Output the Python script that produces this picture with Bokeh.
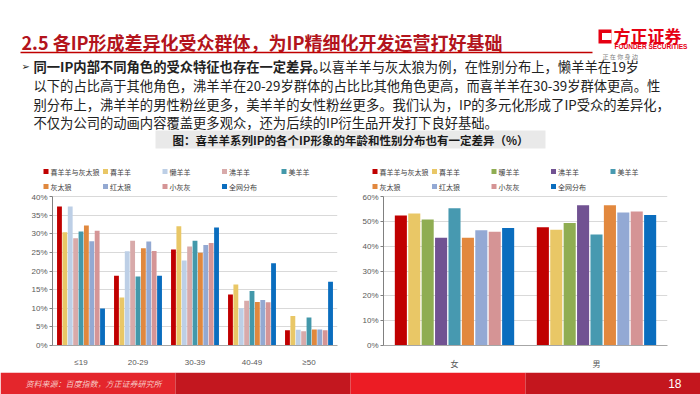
from bokeh.plotting import figure
from bokeh.layouts import column, row
from bokeh.models import (ColumnDataSource, FactorRange, Range1d, FixedTicker,
                          PrintfTickFormatter)
from bokeh.transform import dodge
from bokeh.core.properties import value
from bokeh.embed import file_html
from bokeh.resources import INLINE

# ---------------- data ----------------
age_groups = ["≤19", "20-29", "30-39", "40-49", "≥50"]
age_series = ["喜羊羊与灰太狼", "喜羊羊", "懒羊羊", "沸羊羊", "美羊羊",
              "灰太狼", "红太狼", "小灰灰", "全网分布"]
age_xyy_htl = [37.3, 18.7, 25.8, 13.7, 4.1]
age_xyy = [30.4, 12.9, 32.0, 16.4, 7.9]
age_lyy = [37.3, 25.3, 22.8, 10.0, 4.2]
age_fyy = [28.8, 28.1, 26.6, 12.0, 3.8]
age_myy = [30.6, 18.5, 28.1, 14.6, 7.5]
age_htl = [32.2, 26.1, 24.9, 11.7, 4.3]
age_hongtl = [28.0, 27.9, 27.0, 12.2, 4.3]
age_xhh = [30.8, 25.4, 27.5, 11.6, 4.1]
age_all = [9.9, 18.7, 31.7, 22.1, 17.1]
age_ticks = [0, 5, 10, 15, 20, 25, 30, 35, 40]

gender_groups = ["女", "男"]
gender_series = ["喜羊羊与灰太狼", "喜羊羊", "暖羊羊", "沸羊羊", "美羊羊",
                 "灰太狼", "红太狼", "小灰灰", "全网分布"]
gen_xyy_htl = [52.3, 47.6]
gen_xyy = [53.2, 46.6]
gen_nyy = [50.7, 49.3]
gen_fyy = [43.4, 56.5]
gen_myy = [55.3, 44.7]
gen_htl = [43.4, 56.5]
gen_hongtl = [46.4, 53.6]
gen_xhh = [45.8, 54.0]
gen_all = [47.3, 52.6]
gender_ticks = [0, 10, 20, 30, 40, 50, 60]

age_values = [age_xyy_htl, age_xyy, age_lyy, age_fyy, age_myy,
              age_htl, age_hongtl, age_xhh, age_all]
gender_values = [gen_xyy_htl, gen_xyy, gen_nyy, gen_fyy, gen_myy,
                 gen_htl, gen_hongtl, gen_xhh, gen_all]

age_colors = ["#C00000", "#E9C766", "#BDCFE6", "#D8AAAA", "#4398AA",
              "#E0883E", "#93A9D2", "#D59596", "#0A6DBE"]
gender_colors = ["#C00000", "#E9C766", "#8FAD52", "#715292", "#4799B0",
                 "#E2883E", "#93A9D4", "#D59495", "#0A6DBE"]

CJK = "Noto Sans CJK SC"
LAT = "Liberation Sans"

# ---------------- header (title, text, caption, legends) ----------------
HEAD_H = 192
head = figure(width=700, height=HEAD_H, x_range=Range1d(0, 700),
              y_range=Range1d(HEAD_H, 0), x_axis_location=None,
              y_axis_location=None, min_border=0, outline_line_color=None,
              output_backend="svg", toolbar_location=None)
head.xgrid.visible = False
head.ygrid.visible = False

head.text(x=[21], y=[41], text=["2.5 各IP形成差异化受众群体，为IP精细化开发运营打好基础"],
          text_font=value(CJK), text_font_size="18px", text_font_style="bold",
          text_color="#B3141C", text_baseline="middle", text_align="left")
head.segment(x0=[20], y0=[52], x1=[592], y1=[52], line_color="#C00000", line_width=1.5)

# logo
head.quad(left=[598], right=[611], top=[29], bottom=[43], fill_color="#E60012", line_color=None)
head.quad(left=[601.5], right=[611], top=[32.5], bottom=[39.5], fill_color="white", line_color=None)
head.text(x=[613], y=[34.5], text=["方正证券"], text_font=value(CJK), text_font_size="17px",
          text_font_style="bold", text_color="#E60012", text_baseline="middle")
head.text(x=[614], y=[46], text=["FOUNDER SECURITIES"], text_font=value(LAT),
          text_font_size="6.5px", text_font_style="bold", text_color="#E60012",
          text_baseline="middle")
head.text(x=[602], y=[56], text=["正   在   你   身   边"], text_font=value(CJK),
          text_font_size="6px", text_color="#808080", text_baseline="middle")

# body text
body_color = "#222222"
head.text(x=[21], y=[66], text=["➢"], text_font=value("DejaVu Sans"), text_font_size="10px",
          text_color=body_color, text_baseline="middle")
head.text(x=[33], y=[66], text=["同一IP内部不同角色的受众特征也存在一定差异。"],
          text_font=value(CJK), text_font_size="13.3px", text_font_style="bold",
          text_color=body_color, text_baseline="middle")
head.text(x=[318], y=[66], text=["以喜羊羊与灰太狼为例，在性别分布上，懒羊羊在19岁"],
          text_font=value(CJK), text_font_size="13.3px",
          text_color=body_color, text_baseline="middle")
head.text(x=[33, 33, 33], y=[85, 104, 122],
          text=["以下的占比高于其他角色，沸羊羊在20-29岁群体的占比比其他角色更高，而喜羊羊在30-39岁群体更高。性",
                "别分布上，沸羊羊的男性粉丝更多，美羊羊的女性粉丝更多。我们认为，IP的多元化形成了IP受众的差异化，",
                "不仅为公司的动画内容覆盖更多观众，还为后续的IP衍生品开发打下良好基础。"],
          text_font=value(CJK), text_font_size="13.3px",
          text_color=body_color, text_baseline="middle")

# caption box
head.quad(left=[155], right=[545], top=[130], bottom=[148], fill_color="#E9E9E9", line_color=None)
head.text(x=[350], y=[139.5], text=["图：喜羊羊系列IP的各个IP形象的年龄和性别分布也有一定差异（%）"],
          text_font=value(CJK), text_font_size="11.5px", text_font_style="bold",
          text_color="#1A1A1A", text_baseline="middle", text_align="center")

# legends (5 columns x 2 rows), built from series names and colours
LEG_PITCH_X = 59.5
LEG_PITCH_Y = 15
LEG_TOP = 171


def add_legend(names, colors, left_px):
    xs, ys = [], []
    for i in range(len(names)):
        xs.append(left_px + (i % 5) * LEG_PITCH_X)
        ys.append(LEG_TOP + (i // 5) * LEG_PITCH_Y)
    head.scatter(x=[x + 2.5 for x in xs], y=ys, marker="square", size=5,
                 fill_color=colors, line_color=None)
    head.text(x=[x + 7 for x in xs], y=ys, text=names, text_font=value(CJK),
              text_font_size="7px", text_color="#404040", text_baseline="middle")


add_legend(age_series, age_colors, 43)
add_legend(gender_series, gender_colors, 372)

# ---------------- charts ----------------
CH_H = 180
FRAME_TOP_PAD = 3
FRAME_BOT_PAD = 27
FRAME_H = CH_H - FRAME_TOP_PAD - FRAME_BOT_PAD
TOP_TICK_PX = 149  # pixel distance from 0 to top tick


def make_chart(groups, values, colors, ticks, border_left, border_right, group_font):
    top_tick = ticks[-1]
    y_end = top_tick * FRAME_H / TOP_TICK_PX
    p = figure(width=350, height=CH_H, x_range=FactorRange(*groups),
               y_range=Range1d(0, y_end), output_backend="svg", toolbar_location=None,
               min_border_left=border_left, min_border_right=border_right,
               min_border_top=FRAME_TOP_PAD, min_border_bottom=FRAME_BOT_PAD,
               outline_line_color=None)
    n = len(values)
    step = 0.85 / n
    for i, (vals, col) in enumerate(zip(values, colors)):
        src = ColumnDataSource(dict(cat=groups, val=vals))
        p.vbar(x=dodge("cat", (i - (n - 1) / 2) * step, range=p.x_range), top="val",
               width=step * 0.9, source=src, fill_color=col, line_color=None)

    yax = p.yaxis[0]
    yax.ticker = FixedTicker(ticks=ticks)
    yax.formatter = PrintfTickFormatter(format="%d%%")
    yax.bounds = (0, top_tick)
    yax.axis_line_color = "#808080"
    yax.major_tick_line_color = "#808080"
    yax.major_tick_out = 3
    yax.major_tick_in = 0
    yax.minor_tick_line_color = None
    yax.major_label_text_font = LAT
    yax.major_label_text_font_size = "8px"
    yax.major_label_text_color = "#595959"
    yax.major_label_standoff = 2

    xax = p.xaxis[0]
    xax.axis_line_color = "#A6A6A6"
    xax.major_tick_line_color = None
    xax.minor_tick_line_color = None
    xax.major_label_text_font = group_font
    xax.major_label_text_font_size = "8px"
    xax.major_label_text_color = "#595959"
    xax.major_label_standoff = 6

    p.xgrid.visible = False
    p.ygrid.ticker = FixedTicker(ticks=ticks)
    p.ygrid.grid_line_color = "#D9D9D9"
    return p


left = make_chart(age_groups, age_values, age_colors, age_ticks, 52, 13, LAT)
right = make_chart(gender_groups, gender_values, gender_colors, gender_ticks, 33, 33, CJK)

# ---------------- footer ----------------
foot = figure(width=700, height=22, x_range=Range1d(0, 700), y_range=Range1d(394, 372),
              x_axis_location=None, y_axis_location=None, min_border=0,
              outline_line_color=None, output_backend="svg", toolbar_location=None)
foot.xgrid.visible = False
foot.ygrid.visible = False
foot.quad(left=[0, 175, 350, 525], right=[175, 350, 525, 700], top=[372] * 4,
          bottom=[394] * 4, fill_color=["#E4262C", "#C3171F", "#EC1C24", "#C4161E"],
          line_color=None)
foot.text(x=[25], y=[383], text=["资料来源：百度指数，方正证券研究所"], text_font=value(CJK),
          text_font_size="8px", text_font_style="italic", text_color="#F6C9C4",
          text_baseline="middle")
foot.text(x=[681], y=[383], text=["18"], text_font=value(LAT), text_font_size="12px",
          text_color="white", text_baseline="middle", text_align="right")

page = column(head, row(left, right), foot)
open("out.html", "w").write(file_html(page, INLINE))
